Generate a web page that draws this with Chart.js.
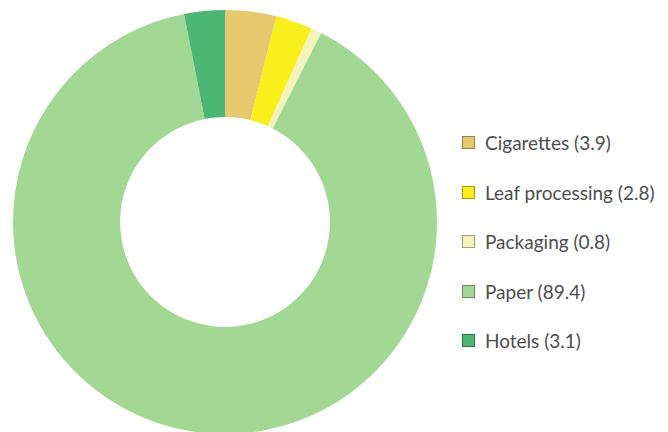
<!DOCTYPE html>
<html>
<head>
<meta charset="utf-8">
<script src="https://cdn.jsdelivr.net/npm/chart.js@4"></script>
<style>
    html, body {
        margin: 0;
        padding: 0;
        background: #ffffff;
    }
    #wrap {
        position: relative;
        width: 668px;
        height: 432px;
        overflow: hidden;
    }
    #costChart {
        position: absolute;
        left: 0;
        top: -3px;
    }
    #legend {
        position: absolute;
        left: 462px;
        top: 118px;
        margin: 0;
        padding: 0;
        list-style: none;
        font-family: Lato, sans-serif;
        font-size: 19px;
        color: #4d4d4d;
    }
    #legend li {
        display: flex;
        align-items: center;
        height: 49.5px;
        white-space: nowrap;
    }
    #legend .swatch {
        display: inline-block;
        width: 11px;
        height: 11px;
        border: 1px solid rgba(0, 0, 0, 0.35);
        margin-right: 10px;
    }
</style>
</head>
<body>
<div id="wrap">
    <canvas id="costChart" width="450" height="450"></canvas>
    <ul id="legend"></ul>
</div>
<script>
const sectors = ["Cigarettes", "Leaf processing", "Packaging", "Paper", "Hotels"];
const shares = [3.9, 2.8, 0.8, 89.4, 3.1];
const sectorColors = ["#e6c96e", "#f8ef1c", "#f4f3bb", "#a2d893", "#4cb674"];

document.addEventListener("DOMContentLoaded", () => {
    const canvas = document.getElementById("costChart");
    const legendList = document.getElementById("legend");

    const chart = new Chart(canvas, {
        type: "doughnut",
        data: {
            labels: sectors,
            datasets: [{
                data: shares,
                backgroundColor: sectorColors,
                borderWidth: 0
            }]
        },
        options: {
            responsive: false,
            animation: false,
            cutout: "49.5%",
            layout: {
                padding: 13
            },
            plugins: {
                legend: { display: false },
                tooltip: { enabled: false }
            }
        }
    });

    // legend rows: colour swatch plus "Label (value)"
    legendList.innerHTML = chart.data.labels.map((label, i) =>
        `<li><span class="swatch" style="background:${sectorColors[i]}"></span>${label} (${shares[i].toFixed(1)})</li>`
    ).join("");
});
</script>
</body>
</html>
